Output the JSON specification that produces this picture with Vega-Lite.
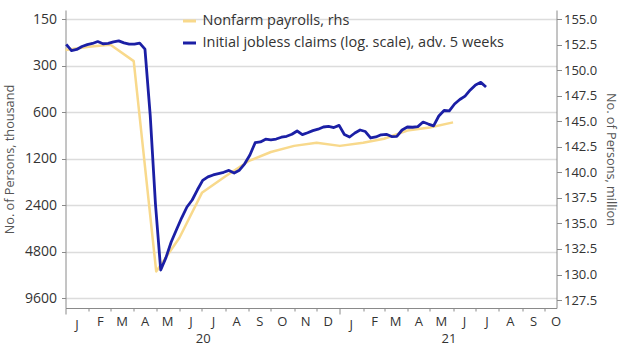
{
  "$schema": "https://vega.github.io/schema/vega-lite/v6.json",
  "width": 491,
  "height": 298,
  "autosize": {"type": "none"},
  "padding": {"left": 65.5, "top": 10, "right": 63.5, "bottom": 43},
  "background": "white",
  "config": {
    "view": {"stroke": null},
    "font": "Open Sans",
    "legend": {"orient": "none", "legendX": 116, "legendY": 3}
  },
  "datasets": {
    "payrolls": [
      {"date": "2020-01-01", "value": 152.0, "series": "Nonfarm payrolls, rhs"},
      {"date": "2020-02-01", "value": 152.3, "series": "Nonfarm payrolls, rhs"},
      {"date": "2020-03-01", "value": 152.5, "series": "Nonfarm payrolls, rhs"},
      {"date": "2020-04-01", "value": 150.9, "series": "Nonfarm payrolls, rhs"},
      {"date": "2020-05-01", "value": 130.3, "series": "Nonfarm payrolls, rhs"},
      {"date": "2020-06-01", "value": 133.6, "series": "Nonfarm payrolls, rhs"},
      {"date": "2020-07-01", "value": 138.0, "series": "Nonfarm payrolls, rhs"},
      {"date": "2020-08-01", "value": 139.6, "series": "Nonfarm payrolls, rhs"},
      {"date": "2020-09-01", "value": 141.1, "series": "Nonfarm payrolls, rhs"},
      {"date": "2020-10-01", "value": 142.0, "series": "Nonfarm payrolls, rhs"},
      {"date": "2020-11-01", "value": 142.6, "series": "Nonfarm payrolls, rhs"},
      {"date": "2020-12-01", "value": 142.9, "series": "Nonfarm payrolls, rhs"},
      {"date": "2021-01-01", "value": 142.6, "series": "Nonfarm payrolls, rhs"},
      {"date": "2021-02-01", "value": 142.9, "series": "Nonfarm payrolls, rhs"},
      {"date": "2021-03-01", "value": 143.3, "series": "Nonfarm payrolls, rhs"},
      {"date": "2021-04-01", "value": 144.1, "series": "Nonfarm payrolls, rhs"},
      {"date": "2021-05-01", "value": 144.4, "series": "Nonfarm payrolls, rhs"},
      {"date": "2021-06-01", "value": 144.9, "series": "Nonfarm payrolls, rhs"}
    ],
    "claims": [
      {"date": "2020-01-02", "value": 218, "series": "Initial jobless claims (log. scale), adv. 5 weeks"},
      {"date": "2020-01-09", "value": 239, "series": "Initial jobless claims (log. scale), adv. 5 weeks"},
      {"date": "2020-01-16", "value": 235, "series": "Initial jobless claims (log. scale), adv. 5 weeks"},
      {"date": "2020-01-23", "value": 225, "series": "Initial jobless claims (log. scale), adv. 5 weeks"},
      {"date": "2020-01-30", "value": 219, "series": "Initial jobless claims (log. scale), adv. 5 weeks"},
      {"date": "2020-02-06", "value": 215, "series": "Initial jobless claims (log. scale), adv. 5 weeks"},
      {"date": "2020-02-13", "value": 209, "series": "Initial jobless claims (log. scale), adv. 5 weeks"},
      {"date": "2020-02-20", "value": 216, "series": "Initial jobless claims (log. scale), adv. 5 weeks"},
      {"date": "2020-02-27", "value": 215, "series": "Initial jobless claims (log. scale), adv. 5 weeks"},
      {"date": "2020-03-05", "value": 210, "series": "Initial jobless claims (log. scale), adv. 5 weeks"},
      {"date": "2020-03-12", "value": 207, "series": "Initial jobless claims (log. scale), adv. 5 weeks"},
      {"date": "2020-03-19", "value": 213, "series": "Initial jobless claims (log. scale), adv. 5 weeks"},
      {"date": "2020-03-26", "value": 217, "series": "Initial jobless claims (log. scale), adv. 5 weeks"},
      {"date": "2020-04-02", "value": 217, "series": "Initial jobless claims (log. scale), adv. 5 weeks"},
      {"date": "2020-04-09", "value": 214, "series": "Initial jobless claims (log. scale), adv. 5 weeks"},
      {"date": "2020-04-16", "value": 234, "series": "Initial jobless claims (log. scale), adv. 5 weeks"},
      {"date": "2020-04-23", "value": 625, "series": "Initial jobless claims (log. scale), adv. 5 weeks"},
      {"date": "2020-04-30", "value": 2354, "series": "Initial jobless claims (log. scale), adv. 5 weeks"},
      {"date": "2020-05-07", "value": 6296, "series": "Initial jobless claims (log. scale), adv. 5 weeks"},
      {"date": "2020-05-14", "value": 5235, "series": "Initial jobless claims (log. scale), adv. 5 weeks"},
      {"date": "2020-05-21", "value": 4148, "series": "Initial jobless claims (log. scale), adv. 5 weeks"},
      {"date": "2020-05-28", "value": 3453, "series": "Initial jobless claims (log. scale), adv. 5 weeks"},
      {"date": "2020-06-04", "value": 2892, "series": "Initial jobless claims (log. scale), adv. 5 weeks"},
      {"date": "2020-06-11", "value": 2462, "series": "Initial jobless claims (log. scale), adv. 5 weeks"},
      {"date": "2020-06-18", "value": 2218, "series": "Initial jobless claims (log. scale), adv. 5 weeks"},
      {"date": "2020-06-25", "value": 1905, "series": "Initial jobless claims (log. scale), adv. 5 weeks"},
      {"date": "2020-07-02", "value": 1656, "series": "Initial jobless claims (log. scale), adv. 5 weeks"},
      {"date": "2020-07-09", "value": 1572, "series": "Initial jobless claims (log. scale), adv. 5 weeks"},
      {"date": "2020-07-16", "value": 1527, "series": "Initial jobless claims (log. scale), adv. 5 weeks"},
      {"date": "2020-07-23", "value": 1496, "series": "Initial jobless claims (log. scale), adv. 5 weeks"},
      {"date": "2020-07-30", "value": 1467, "series": "Initial jobless claims (log. scale), adv. 5 weeks"},
      {"date": "2020-08-06", "value": 1427, "series": "Initial jobless claims (log. scale), adv. 5 weeks"},
      {"date": "2020-08-13", "value": 1483, "series": "Initial jobless claims (log. scale), adv. 5 weeks"},
      {"date": "2020-08-20", "value": 1422, "series": "Initial jobless claims (log. scale), adv. 5 weeks"},
      {"date": "2020-08-27", "value": 1293, "series": "Initial jobless claims (log. scale), adv. 5 weeks"},
      {"date": "2020-09-03", "value": 1134, "series": "Initial jobless claims (log. scale), adv. 5 weeks"},
      {"date": "2020-09-10", "value": 944, "series": "Initial jobless claims (log. scale), adv. 5 weeks"},
      {"date": "2020-09-17", "value": 934, "series": "Initial jobless claims (log. scale), adv. 5 weeks"},
      {"date": "2020-09-24", "value": 896, "series": "Initial jobless claims (log. scale), adv. 5 weeks"},
      {"date": "2020-10-01", "value": 904, "series": "Initial jobless claims (log. scale), adv. 5 weeks"},
      {"date": "2020-10-08", "value": 894, "series": "Initial jobless claims (log. scale), adv. 5 weeks"},
      {"date": "2020-10-15", "value": 870, "series": "Initial jobless claims (log. scale), adv. 5 weeks"},
      {"date": "2020-10-22", "value": 858, "series": "Initial jobless claims (log. scale), adv. 5 weeks"},
      {"date": "2020-10-29", "value": 833, "series": "Initial jobless claims (log. scale), adv. 5 weeks"},
      {"date": "2020-11-05", "value": 793, "series": "Initial jobless claims (log. scale), adv. 5 weeks"},
      {"date": "2020-11-12", "value": 837, "series": "Initial jobless claims (log. scale), adv. 5 weeks"},
      {"date": "2020-11-19", "value": 814, "series": "Initial jobless claims (log. scale), adv. 5 weeks"},
      {"date": "2020-11-26", "value": 789, "series": "Initial jobless claims (log. scale), adv. 5 weeks"},
      {"date": "2020-12-03", "value": 772, "series": "Initial jobless claims (log. scale), adv. 5 weeks"},
      {"date": "2020-12-10", "value": 747, "series": "Initial jobless claims (log. scale), adv. 5 weeks"},
      {"date": "2020-12-17", "value": 741, "series": "Initial jobless claims (log. scale), adv. 5 weeks"},
      {"date": "2020-12-24", "value": 753, "series": "Initial jobless claims (log. scale), adv. 5 weeks"},
      {"date": "2020-12-31", "value": 729, "series": "Initial jobless claims (log. scale), adv. 5 weeks"},
      {"date": "2021-01-07", "value": 835, "series": "Initial jobless claims (log. scale), adv. 5 weeks"},
      {"date": "2021-01-14", "value": 867, "series": "Initial jobless claims (log. scale), adv. 5 weeks"},
      {"date": "2021-01-21", "value": 817, "series": "Initial jobless claims (log. scale), adv. 5 weeks"},
      {"date": "2021-01-28", "value": 781, "series": "Initial jobless claims (log. scale), adv. 5 weeks"},
      {"date": "2021-02-04", "value": 799, "series": "Initial jobless claims (log. scale), adv. 5 weeks"},
      {"date": "2021-02-11", "value": 880, "series": "Initial jobless claims (log. scale), adv. 5 weeks"},
      {"date": "2021-02-18", "value": 867, "series": "Initial jobless claims (log. scale), adv. 5 weeks"},
      {"date": "2021-02-25", "value": 839, "series": "Initial jobless claims (log. scale), adv. 5 weeks"},
      {"date": "2021-03-04", "value": 833, "series": "Initial jobless claims (log. scale), adv. 5 weeks"},
      {"date": "2021-03-11", "value": 861, "series": "Initial jobless claims (log. scale), adv. 5 weeks"},
      {"date": "2021-03-18", "value": 858, "series": "Initial jobless claims (log. scale), adv. 5 weeks"},
      {"date": "2021-03-25", "value": 781, "series": "Initial jobless claims (log. scale), adv. 5 weeks"},
      {"date": "2021-04-01", "value": 747, "series": "Initial jobless claims (log. scale), adv. 5 weeks"},
      {"date": "2021-04-08", "value": 750, "series": "Initial jobless claims (log. scale), adv. 5 weeks"},
      {"date": "2021-04-15", "value": 743, "series": "Initial jobless claims (log. scale), adv. 5 weeks"},
      {"date": "2021-04-22", "value": 694, "series": "Initial jobless claims (log. scale), adv. 5 weeks"},
      {"date": "2021-04-29", "value": 715, "series": "Initial jobless claims (log. scale), adv. 5 weeks"},
      {"date": "2021-05-06", "value": 734, "series": "Initial jobless claims (log. scale), adv. 5 weeks"},
      {"date": "2021-05-13", "value": 634, "series": "Initial jobless claims (log. scale), adv. 5 weeks"},
      {"date": "2021-05-20", "value": 584, "series": "Initial jobless claims (log. scale), adv. 5 weeks"},
      {"date": "2021-05-27", "value": 588, "series": "Initial jobless claims (log. scale), adv. 5 weeks"},
      {"date": "2021-06-03", "value": 530, "series": "Initial jobless claims (log. scale), adv. 5 weeks"},
      {"date": "2021-06-10", "value": 496, "series": "Initial jobless claims (log. scale), adv. 5 weeks"},
      {"date": "2021-06-17", "value": 471, "series": "Initial jobless claims (log. scale), adv. 5 weeks"},
      {"date": "2021-06-24", "value": 430, "series": "Initial jobless claims (log. scale), adv. 5 weeks"},
      {"date": "2021-07-01", "value": 399, "series": "Initial jobless claims (log. scale), adv. 5 weeks"},
      {"date": "2021-07-08", "value": 384, "series": "Initial jobless claims (log. scale), adv. 5 weeks"},
      {"date": "2021-07-15", "value": 412, "series": "Initial jobless claims (log. scale), adv. 5 weeks"}
    ]
  },
  "layer": [
    {
      "data": {"name": "payrolls"},
      "mark": {"type": "line", "strokeWidth": 2.5, "strokeJoin": "round"},
      "encoding": {
        "x": {
          "field": "date", "type": "temporal",
          "scale": {"domain": [{"year": 2020, "month": 1, "date": 1}, {"year": 2021, "month": 10, "date": 17}], "nice": false},
          "axis": {
            "orient": "bottom", "title": null, "grid": false,
            "tickCount": {"interval": "month", "step": 1},
            "labelExpr": "substring(timeFormat(datum.value, '%b'), 0, 1)",
            "labelOffset": 11, "labelOverlap": false, "labelFlush": false, "labelBound": false,
            "tickSize": {"condition": {"test": "month(datum.value) == 0", "value": 6}, "value": 3},
            "labelPadding": 4, "domainColor": "#8a8a8a", "tickColor": "#8a8a8a",
            "labelFontSize": 13, "labelColor": "#333333"
          }
        },
        "y": {
          "field": "value", "type": "quantitative",
          "scale": {"domain": [126.72, 155.91], "nice": false, "zero": false},
          "axis": {
            "orient": "right", "values": [127.5, 130, 132.5, 135, 137.5, 140, 142.5, 145, 147.5, 150, 152.5, 155],
            "format": ".1f", "grid": false, "tickSize": 5, "labelPadding": 2,
            "domainColor": "#8a8a8a", "tickColor": "#8a8a8a",
            "labelFontSize": 13, "labelColor": "#333333",
            "title": "No. of Persons, million", "titleFontSize": 12.7, "titleFontWeight": "normal",
            "titleColor": "#555555", "titlePadding": 7
          }
        },
        "color": {
          "field": "series", "type": "nominal",
          "scale": {"domain": ["Nonfarm payrolls, rhs", "Initial jobless claims (log. scale), adv. 5 weeks"], "range": ["#f8d98c", "#1b1fa5"]},
          "legend": {"title": null, "symbolType": "stroke", "symbolStrokeWidth": 3, "symbolSize": 169, "labelFontSize": 14.5, "labelColor": "#333333", "rowPadding": 7, "labelOffset": 5, "labelLimit": 500}
        }
      }
    },
    {
      "data": {"name": "claims"},
      "mark": {"type": "line", "strokeWidth": 2.8, "strokeJoin": "round"},
      "encoding": {
        "x": {
          "field": "date", "type": "temporal",
          "axis": {
            "orient": "bottom", "title": null, "grid": false, "ticks": false, "domain": false,
            "values": [{"year": 2020, "month": 7, "date": 2}, {"year": 2021, "month": 5, "date": 26}],
            "labelExpr": "timeFormat(datum.value, '%y')",
            "labelOverlap": false, "labelFlush": false, "labelBound": false,
            "labelPadding": 24, "labelFontSize": 13, "labelColor": "#333333"
          }
        },
        "y": {
          "field": "value", "type": "quantitative",
          "scale": {"type": "log", "domain": [130.6, 11093], "reverse": true, "nice": false},
          "axis": {
            "orient": "left", "values": [150, 300, 600, 1200, 2400, 4800, 9600], "format": "d",
            "grid": true, "gridColor": "#dcdcdc", "gridWidth": 1.5,
            "tickSize": 4, "labelPadding": 5, "domainColor": "#8a8a8a", "tickColor": "#8a8a8a",
            "labelFontSize": 14, "labelColor": "#333333",
            "title": "No. of Persons, thousand", "titleFontSize": 12.7, "titleFontWeight": "normal",
            "titleColor": "#555555", "titlePadding": 8
          }
        },
        "color": {"field": "series", "type": "nominal"}
      }
    }
  ],
  "resolve": {"scale": {"y": "independent"}, "axis": {"x": "independent", "y": "independent"}}
}
